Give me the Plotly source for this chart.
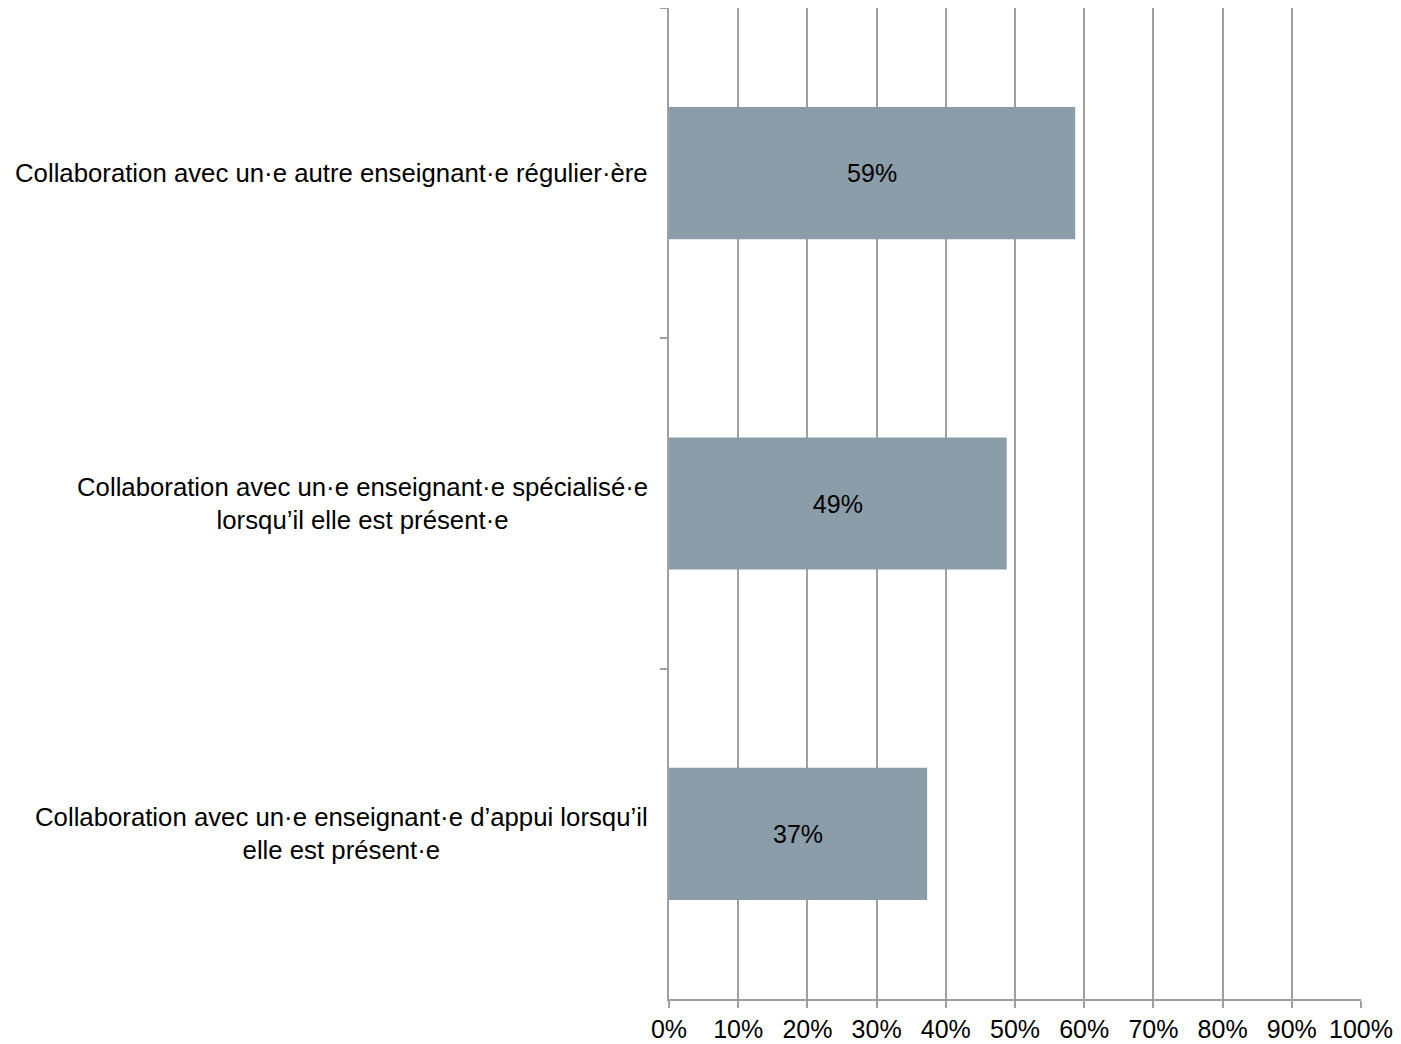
import plotly.graph_objects as go

# Données
categories = [
    "Collaboration avec un·e autre enseignant·e régulier·ère",
    "Collaboration avec un·e enseignant·e spécialisé·e<br>lorsqu’il elle est présent·e",
    "Collaboration avec un·e enseignant·e d’appui lorsqu’il<br>elle est présent·e",
]
valeurs = [0.587, 0.488, 0.373]
ticks_x = [i / 10 for i in range(11)]

police = dict(family="Liberation Sans, Arial, sans-serif", size=25, color="#000000")
police_cat = dict(police, size=25.75)
gris = "#a0a0a0"

fig = go.Figure()
fig.add_trace(go.Bar(
    x=valeurs,
    y=categories,
    orientation="h",
    width=0.4,
    marker=dict(color="#8a9da8", line=dict(width=0)),
    texttemplate="%{x:.0%}",
    textposition="inside",
    insidetextanchor="middle",
    textfont=police,
    hoverinfo="skip",
))

# étiquettes de catégories centrées (comme dans l'original)
for cat in categories:
    fig.add_annotation(
        x=0, xref="paper", y=cat, yref="y",
        text=cat, showarrow=False,
        xanchor="right", align="center",
        xshift=-19, font=police_cat,
    )

# la page ajoute 8px de marge autour du graphique
fig.update_layout(
    width=1393, height=1036,
    margin=dict(l=661, r=40, t=0, b=45),
    paper_bgcolor="white", plot_bgcolor="white",
    showlegend=False,
    font=police,
    xaxis=dict(
        range=[0, 1], tickvals=ticks_x, tickformat=".0%",
        showgrid=True, gridcolor=gris, gridwidth=1.5,
        showline=True, linecolor=gris, linewidth=1.5,
        ticks="outside", ticklen=7, tickcolor=gris, tickwidth=1.5,
        zeroline=False, tickfont=police,
    ),
    yaxis=dict(
        autorange="reversed", showticklabels=False,
        showline=True, linecolor=gris, linewidth=1.5,
        ticks="outside", tickson="boundaries", ticklen=7,
        tickcolor=gris, tickwidth=1.5, showgrid=False,
    ),
)

fig.write_html("out.html")
